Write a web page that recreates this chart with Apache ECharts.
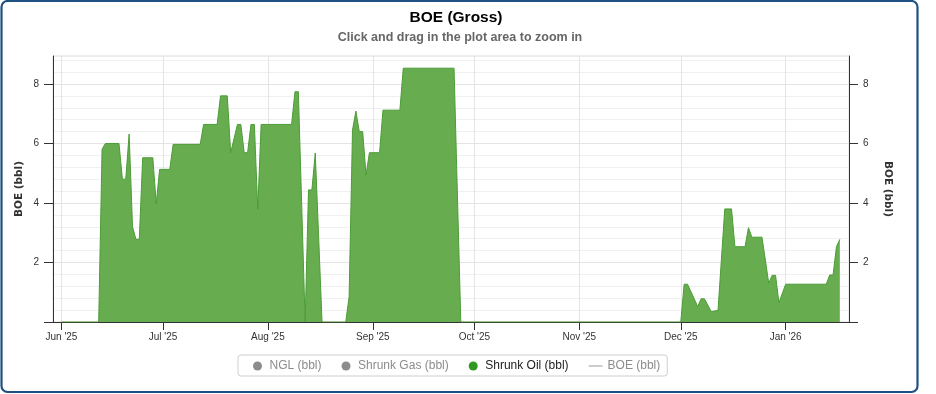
<!DOCTYPE html>
<html>
<head>
<meta charset="utf-8">
<script src="https://cdn.jsdelivr.net/npm/echarts@6/dist/echarts.min.js"></script>
<style>
html,body{margin:0;padding:0;background:#fff;}
#chart{width:936px;height:394px;}
</style>
</head>
<body>
<div id="chart"></div>
<script>
// ---- data (vertices) ----
var oilDates = [
  '2025-06-01','2025-06-12','2025-06-13','2025-06-14','2025-06-18','2025-06-19','2025-06-20','2025-06-21',
  '2025-06-22','2025-06-23','2025-06-24','2025-06-25','2025-06-28','2025-06-29','2025-06-30','2025-07-03',
  '2025-07-04','2025-07-12','2025-07-13','2025-07-17','2025-07-18','2025-07-20','2025-07-21','2025-07-23',
  '2025-07-24','2025-07-25','2025-07-26','2025-07-27','2025-07-28','2025-07-29','2025-07-30','2025-08-08',
  '2025-08-09','2025-08-10','2025-08-12','2025-08-13','2025-08-14','2025-08-15','2025-08-17','2025-08-24',
  '2025-08-25','2025-08-26','2025-08-27','2025-08-28','2025-08-29','2025-08-30','2025-08-31','2025-09-03',
  '2025-09-04','2025-09-09','2025-09-10','2025-09-25','2025-09-27','2025-12-01','2025-12-02','2025-12-03',
  '2025-12-06','2025-12-07','2025-12-08','2025-12-10','2025-12-12','2025-12-14','2025-12-16','2025-12-17',
  '2025-12-20','2025-12-21','2025-12-22','2025-12-25','2025-12-27','2025-12-28','2025-12-29','2025-12-30',
  '2026-01-01','2026-01-13','2026-01-14','2026-01-15','2026-01-16','2026-01-17'
];
var oilValues = [
  0, 0, 5.81, 6.0, 6.0, 4.8, 4.8, 6.32,
  3.2, 2.78, 2.78, 5.52, 5.52, 3.97, 5.13, 5.13,
  5.97, 5.97, 6.64, 6.64, 7.6, 7.6, 5.69, 6.64,
  6.64, 5.69, 5.69, 6.64, 6.64, 3.79, 6.64, 6.64,
  7.74, 7.74, 0, 4.44, 4.44, 5.68, 0, 0,
  0.85, 6.45, 7.09, 6.40, 6.40, 4.94, 5.69, 5.69,
  7.12, 7.12, 8.53, 8.53, 0, 0, 1.27, 1.27,
  0.52, 0.78, 0.78, 0.35, 0.39, 3.8, 3.8, 2.53,
  2.53, 3.17, 2.85, 2.85, 1.3, 1.57, 1.57, 0.65,
  1.27, 1.27, 1.58, 1.58, 2.53, 2.78
];
var nglValues = [];
var gasValues = [];
var boeValues = [];
var monthTicks = ['2025-06-01','2025-07-01','2025-08-01','2025-09-01','2025-10-01','2025-11-01','2025-12-01','2026-01-01'];
var yTicks = [0, 2, 4, 6, 8];
var yLabels = [2, 4, 6, 8];
var seriesNames = ['NGL (bbl)', 'Shrunk Gas (bbl)', 'Shrunk Oil (bbl)', 'BOE (bbl)'];
var monthNames = ['Jan','Feb','Mar','Apr','May','Jun','Jul','Aug','Sep','Oct','Nov','Dec'];

function ts(s) {
  var p = s.split('-');
  return new Date(+p[0], +p[1] - 1, +p[2]).getTime();
}
function pairs(dates, vals) {
  var out = [];
  for (var i = 0; i < vals.length; i++) out.push([ts(dates[i]), vals[i]]);
  return out;
}
var monthTickTs = monthTicks.map(ts);

var chart = echarts.init(document.getElementById('chart'), null, {renderer: 'canvas'});
var axisFont = {fontFamily: 'Liberation Sans', fontSize: 10, color: '#333'};
var yNameStyle = {fontFamily: 'DejaVu Sans', fontSize: 10.5, fontWeight: 'bold', color: '#333'};

function yAxisCommon(pos) {
  return {
    type: 'value', position: pos, min: 0, max: 8.94,
    interval: 2,
    name: 'BOE (bbl)', nameLocation: 'middle',
    nameGap: pos === 'left' ? 28 : 33,
    nameMoveOverlap: false,
    nameRotate: pos === 'left' ? 90 : -90,
    nameTextStyle: yNameStyle,
    axisLine: {show: true, lineStyle: {color: '#333', width: 1}},
    axisTick: {show: true, length: 9, customValues: yTicks, lineStyle: {color: '#333'}},
    axisLabel: Object.assign({margin: 14, customValues: yLabels}, axisFont),
    splitLine: {show: pos === 'left', lineStyle: {color: '#e4e4e4', width: 1}},
    minorTick: {show: false, splitNumber: 5},
    minorSplitLine: {show: pos === 'left', lineStyle: {color: '#f0f0f0', width: 1}}
  };
}

var option = {
  animation: false,
  backgroundColor: '#fff',
  title: [
    {text: 'BOE (Gross)', left: 456, top: 10, textAlign: 'center', padding: 0,
     textStyle: {fontFamily: 'Liberation Sans', fontSize: 15.5, fontWeight: 'bold', color: '#000'}},
    {text: 'Click and drag in the plot area to zoom in', left: 460, top: 31, textAlign: 'center', padding: 0,
     textStyle: {fontFamily: 'Liberation Sans', fontSize: 12.5, fontWeight: 'bold', color: '#666'}}
  ],
  grid: {left: 53, right: 87, top: 56, bottom: 72, containLabel: false,
         show: true, borderColor: '#dcdcdc', borderWidth: 1, backgroundColor: 'transparent'},
  legend: {
    left: 238, top: 355,
    orient: 'horizontal',
    padding: [5, 7, 4, 15],
    itemGap: 20, itemWidth: 14, itemHeight: 9,
    borderColor: '#cfcfcf', borderWidth: 1, borderRadius: 3,
    backgroundColor: '#fff',
    inactiveColor: '#8c8c8c',
    textStyle: {fontFamily: 'Liberation Sans', fontSize: 12, color: '#222'},
    selected: {'NGL (bbl)': false, 'Shrunk Gas (bbl)': false, 'Shrunk Oil (bbl)': true, 'BOE (bbl)': false},
    data: [
      {name: seriesNames[0], icon: 'circle'},
      {name: seriesNames[1], icon: 'circle'},
      {name: seriesNames[2], icon: 'circle'},
      {name: seriesNames[3], icon: 'path://M0,0 L16,0 L16,1 L0,1 Z'}
    ]
  },
  xAxis: {
    type: 'value',
    min: new Date(2025, 4, 29, 12).getTime(),
    max: new Date(2026, 0, 19, 17).getTime(),
    axisLine: {show: true, onZero: false, lineStyle: {color: '#333', width: 1}},
    axisTick: {show: true, length: 8, customValues: monthTickTs, lineStyle: {color: '#333'}},
    axisLabel: Object.assign({
      margin: 10, customValues: monthTickTs, hideOverlap: false,
      formatter: function (v) {
        var d = new Date(v);
        return monthNames[d.getMonth()] + " '" + String(d.getFullYear()).slice(2);
      }
    }, axisFont),
    splitLine: {show: true, lineStyle: {color: '#e4e4e4', width: 1}}
  },
  yAxis: [yAxisCommon('left'), yAxisCommon('right')],
  graphic: [
    {type: 'rect', silent: true, z: 100,
     shape: {x: 1.5, y: 1, width: 916, height: 391, r: 6},
     style: {fill: 'none', stroke: '#1f5183', lineWidth: 2.2}}
  ],
  series: [
    {name: seriesNames[0], type: 'line', data: nglValues, itemStyle: {color: '#8c8c8c'}, symbol: 'none'},
    {name: seriesNames[1], type: 'line', data: gasValues, itemStyle: {color: '#8c8c8c'}, symbol: 'none'},
    {name: seriesNames[2], type: 'line', yAxisIndex: 0,
     data: pairs(oilDates, oilValues),
     symbol: 'none', showSymbol: false,
     itemStyle: {color: '#2f9a1f'},
     lineStyle: {color: '#4c9c37', width: 1},
     areaStyle: {color: '#67ad4f', opacity: 1}},
    {name: seriesNames[3], type: 'line', data: boeValues, itemStyle: {color: '#8c8c8c'}, symbol: 'none'}
  ]
};
chart.setOption(option);
</script>
</body>
</html>
